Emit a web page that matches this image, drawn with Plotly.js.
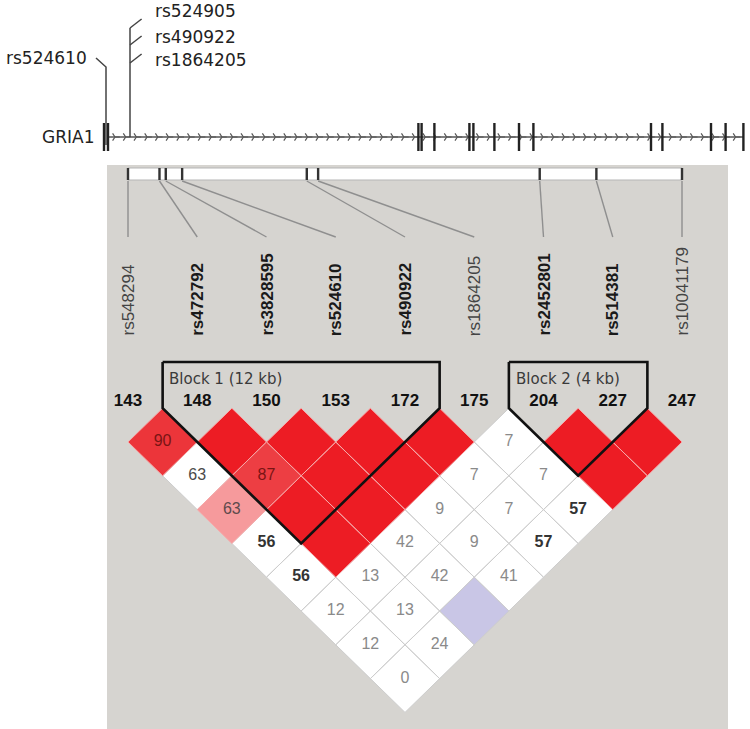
<!DOCTYPE html>
<html>
<head>
<meta charset="utf-8">
<script src="https://cdn.plot.ly/plotly-3.0.1.min.js"></script>
<style>
  html, body { margin: 0; padding: 0; background: #fff; }
  #chart { width: 750px; height: 729px; }
</style>
</head>
<body>
<div id="chart"></div>
<script>
// === Data ===
const snpNames = ['rs548294', 'rs472792', 'rs3828595', 'rs524610', 'rs490922',
                  'rs1864205', 'rs2452801', 'rs514381', 'rs10041179'];
const markerNums = [143, 148, 150, 153, 172, 175, 204, 227, 247];
const snpKb = [0, 2.5, 3.0, 4.3, 14.2, 15.1, 32.7, 37.2, 44.0];

// D' (x100) per pair, row d holds the pairs (i, i+d); 100 = complete LD, no number shown
const dPrimeRows = [
    [90, 100, 100, 100, 100, 7, 100, 100],
    [63, 87, 100, 100, 7, 7, 100],
    [63, 100, 100, 9, 7, 57],
    [56, 100, 42, 9, 57],
    [56, 13, 42, 41],
    [12, 13, 100],
    [12, 24],
    [0]
];
// 1 where LOD >= 2
const lodStrongRows = [
    [1, 1, 1, 1, 1, 0, 1, 1],
    [0, 1, 1, 1, 0, 0, 1],
    [1, 1, 1, 0, 0, 0],
    [0, 1, 0, 0, 0],
    [0, 0, 0, 0],
    [0, 0, 0],
    [0, 0],
    [0]
];

const blockNames = ['Block 1 (12 kb)', 'Block 2 (4 kb)'];
const blockFirst = [1, 6];
const blockLast = [4, 7];

const geneName = 'GRIA1';
const exonKb = [0, 2, 157.2, 158.8, 165.2, 182.7, 184.7, 195.2, 207.5, 214.7,
                273.5, 279.2, 303.5, 310.8, 319.7];
const trackSnpNames = ['rs524610', 'rs524905', 'rs490922', 'rs1864205'];
const trackSnpKb = [1, 13, 13, 13];

// === Layout constants ===
const W = 750, H = 729;
const X0 = 128, STEP = 69.25;      // first SNP column and column spacing (px)
const ROW1 = 442, HALF = 33.8;     // centre of first LD row, half diamond height
const GENE_X0 = 104, GENE_PX_PER_KB = 2;
const TRACK_Y = 137;
const n = snpNames.length;
const ARIAL = 'Liberation Sans, Arial, sans-serif';
const DEJAVU = 'DejaVu Sans, sans-serif';

const inBlock = snpNames.map((_, i) => blockFirst.some((a, k) => i >= a && i <= blockLast[k]));
const kbToCol = kb => kb / snpKb[n - 1] * (n - 1);

function cellFill(dp, strong) {
    if (strong) {
        if (dp >= 100) return 'rgb(237,28,36)';
        const t = Math.min(1, 2 * Math.pow(1 - dp / 100, 1.3));
        const mix = (a, b) => Math.round(a + (b - a) * t);
        return `rgb(${mix(234, 255)},${mix(30, 255)},${mix(36, 255)})`;
    }
    return dp >= 100 ? '#c9c6e6' : '#ffffff';
}

const traces = [];
const annotations = [];

// === LD diamonds ===
const groups = {};
const order = [];
const txt = { plain: { x: [], y: [], t: [], c: [] }, bold: { x: [], y: [], t: [], c: [] } };
dPrimeRows.forEach((row, r) => {
    const d = r + 1;
    row.forEach((dp, i) => {
        const strong = lodStrongRows[r][i] === 1;
        const fill = cellFill(dp, strong);
        const isWhite = fill === '#ffffff' || fill === '#c9c6e6';
        if (!groups[fill]) {
            groups[fill] = { x: [], y: [], fill, line: isWhite ? '#cdcdcd' : '#f6a9a9', white: isWhite };
            order.push(fill);
        }
        const cx = i + d / 2, cy = ROW1 + (d - 1) * HALF;
        const g = groups[fill];
        g.x.push(cx, cx + 0.5, cx, cx - 0.5, cx, null);
        g.y.push(cy - HALF, cy, cy + HALF, cy, cy - HALF, null);
        if (dp < 100) {
            let color = '#8a8a8a', kind = 'plain';
            if (strong && dp >= 80) color = '#7a1414';
            else if (strong) color = '#5e4a4c';
            else if (dp >= 60) color = '#4a4a4a';
            else if (dp >= 50) { color = '#333333'; kind = 'bold'; }
            const o = txt[kind];
            o.x.push(cx); o.y.push(cy); o.t.push(String(dp)); o.c.push(color);
        }
    });
});
order.sort((a, b) => groups[b].white - groups[a].white);
order.forEach(k => {
    const g = groups[k];
    traces.push({
        x: g.x, y: g.y, mode: 'lines', fill: 'toself', fillcolor: g.fill,
        line: { color: g.line, width: 1 }, hoverinfo: 'skip', showlegend: false
    });
});
['plain', 'bold'].forEach(kind => {
    const o = txt[kind];
    traces.push({
        x: o.x, y: o.y, text: o.t, mode: 'text', cliponaxis: false,
        textfont: { family: ARIAL, size: 16, color: o.c, weight: kind === 'bold' ? 'bold' : 'normal' },
        hoverinfo: 'skip', showlegend: false
    });
});

// === Block outlines ===
blockNames.forEach((name, k) => {
    const a = blockFirst[k], b = blockLast[k];
    const top = 362, rowTop = ROW1 - HALF;
    const bottom = ROW1 + (b - a - 1) * HALF + HALF;
    traces.push({
        x: [a - 0.5, b + 0.5, b + 0.5, (a + b) / 2, a - 0.5, a - 0.5],
        y: [top, top, rowTop, bottom, rowTop, top],
        mode: 'lines', line: { color: '#111', width: 2.6 }, hoverinfo: 'skip', showlegend: false
    });
    annotations.push({
        x: a - 0.5 + 0.07, y: 379, xref: 'x', yref: 'y', text: name, showarrow: false,
        xanchor: 'left', yanchor: 'middle', font: { family: DEJAVU, size: 15, color: '#3a3a3a' }
    });
});

// === Marker numbers ===
traces.push({
    x: markerNums.map((_, i) => i), y: markerNums.map(() => 402),
    text: markerNums.map(String), mode: 'text', cliponaxis: false,
    textfont: { family: ARIAL, size: 17, color: '#111', weight: 'bold' },
    hoverinfo: 'skip', showlegend: false
});

// === SNP names (rotated) ===
snpNames.forEach((name, i) => {
    annotations.push({
        x: i, y: 338, xref: 'x', yref: 'y', text: name, textangle: -90, showarrow: false,
        xanchor: 'center', yanchor: 'bottom',
        font: { family: ARIAL, size: 17, color: inBlock[i] ? '#1a1a1a' : '#444', weight: inBlock[i] ? 'bold' : 'normal' }
    });
});

// === Position bar and connectors ===
const conX = [], conY = [], tickX = [], tickY = [];
snpKb.forEach((kb, i) => {
    conX.push(kbToCol(kb), i, null);
    conY.push(181, 237, null);
    tickX.push(kbToCol(kb), kbToCol(kb), null);
    tickY.push(168, 180, null);
});
traces.push({ x: conX, y: conY, mode: 'lines', line: { color: '#8f8f8f', width: 1.4 }, hoverinfo: 'skip', showlegend: false });
traces.push({ x: tickX, y: tickY, mode: 'lines', line: { color: '#333', width: 2.4 }, hoverinfo: 'skip', showlegend: false });

// === Gene track ===
const gStart = exonKb[1], gEnd = Math.max(...exonKb);
traces.push({
    x: [gStart, gEnd], y: [TRACK_Y, TRACK_Y], xaxis: 'x2', mode: 'lines',
    line: { color: '#555', width: 1.5 }, hoverinfo: 'skip', showlegend: false
});
const chevX = [];
for (let v = gStart + 3.5; v < gEnd - 1; v += 5.35) chevX.push(v);
traces.push({
    x: chevX, y: chevX.map(() => TRACK_Y), xaxis: 'x2', mode: 'markers',
    marker: { symbol: 'y-right', size: 6, color: '#555', line: { color: '#555', width: 1.2 } },
    hoverinfo: 'skip', showlegend: false
});
traces.push({
    x: exonKb, y: exonKb.map(() => TRACK_Y), xaxis: 'x2', mode: 'markers',
    marker: { symbol: 'line-ns', size: 20, color: '#222', line: { color: '#222', width: 2.4 } },
    hoverinfo: 'skip', showlegend: false
});

// track SNP markers: the first one labelled on the left, the cluster stacked on the right
const snpLX = [], snpLY = [];
const stackY = [11, 37, 60];
const branchY = [28, 45, 63];
let s = 0;
trackSnpNames.forEach((name, i) => {
    const kb = trackSnpKb[i];
    if (i === 0) {
        snpLX.push(kb, kb, kb - 5, null);
        snpLY.push(TRACK_Y + 8, 67, 58, null);
        annotations.push({
            x: kb - 8.5, y: 58, xref: 'x2', yref: 'y', text: name, showarrow: false,
            xanchor: 'right', yanchor: 'middle', font: { family: DEJAVU, size: 17, color: '#222' }
        });
    } else {
        if (s === 0) { snpLX.push(kb, kb, null); snpLY.push(TRACK_Y, branchY[0], null); }
        snpLX.push(kb, kb + 5.8, null);
        snpLY.push(branchY[s], branchY[s] - 9, null);
        annotations.push({
            x: kb + 11.5, y: stackY[s], xref: 'x2', yref: 'y', text: name, showarrow: false,
            xanchor: 'left', yanchor: 'middle', font: { family: DEJAVU, size: 17, color: '#222' }
        });
        s++;
    }
});
traces.push({
    x: snpLX, y: snpLY, xaxis: 'x2', mode: 'lines', line: { color: '#444', width: 1.5 },
    hoverinfo: 'skip', showlegend: false
});
annotations.push({
    x: 96 / W, y: TRACK_Y, xref: 'paper', yref: 'y', text: geneName, showarrow: false,
    xanchor: 'right', yanchor: 'middle', font: { family: DEJAVU, size: 17, color: '#222' }
});

// === Layout ===
const layout = {
    width: W, height: H,
    margin: { l: 0, r: 0, t: 0, b: 0 },
    paper_bgcolor: '#fff', plot_bgcolor: '#fff',
    showlegend: false, hovermode: false,
    xaxis: { range: [-X0 / STEP, (W - X0) / STEP], visible: false, fixedrange: true },
    xaxis2: {
        range: [-GENE_X0 / GENE_PX_PER_KB, (W - GENE_X0) / GENE_PX_PER_KB],
        overlaying: 'x', anchor: 'y', visible: false, fixedrange: true
    },
    yaxis: { range: [H, 0], visible: false, fixedrange: true },
    shapes: [
        {
            type: 'rect', xref: 'paper', yref: 'y', x0: 107 / W, x1: 728 / W, y0: 165, y1: H,
            fillcolor: '#d6d4d0', line: { width: 0 }, layer: 'below'
        },
        {
            type: 'rect', xref: 'x', yref: 'y', x0: kbToCol(snpKb[0]), x1: kbToCol(snpKb[n - 1]),
            y0: 168, y1: 180, fillcolor: '#fff', line: { color: '#b5b5b5', width: 1 }, layer: 'below'
        }
    ],
    annotations
};

Plotly.newPlot('chart', traces, layout, { displayModeBar: false, staticPlot: true });
</script>
</body>
</html>
